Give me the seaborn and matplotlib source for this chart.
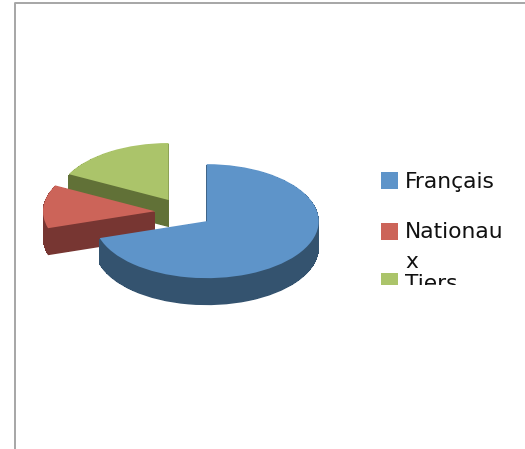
import matplotlib
matplotlib.use("Agg")
import matplotlib.pyplot as plt
from matplotlib.patches import Rectangle
import seaborn as sns

# --- DATA ---
labels = ["Français", "Nationau\nx", "Tiers"]
values = [70.2, 12.3, 17.5]
top_colors = ["#5E94C9", "#CC6459", "#ABC46A"]
side_colors = ["#34536F", "#773632", "#617137"]

# --- GEOMETRY (pixels, y flattened by squash) ---
W, H = 525, 449
squash = 112 / 57
depth = 27
cx, cy = 183.6, 212.5


def py(y):
    return (H - y) * squash


sns.set_theme(style="white")
fig = plt.figure(figsize=(W / 100, H / 100), dpi=100)
ax = fig.add_axes([0, 0, 1, 1])

# explode is in data units here because of the big radius
pie_args = dict(startangle=90, counterclock=False, radius=112, explode=[28.7] * 3,
                wedgeprops=dict(linewidth=0))

# side walls: dark copies stacked downwards, back slices first
# no antialiasing except the lowest one, else the edges pile up into a dark line
for d in range(depth, 0, -1):
    wedges, _ = ax.pie(values, colors=side_colors, center=(cx, py(cy + d)), **pie_args)
    for w, z in zip(wedges, [3, 2, 1]):
        w.set_zorder(z)
        w.set_antialiased(d == depth)

wedges, _ = ax.pie(values, colors=top_colors, center=(cx, py(cy)), **pie_args)
for w, z in zip(wedges, [3.5, 2.5, 1.5]):
    w.set_zorder(z)

ax.set_aspect("auto")
ax.set_xlim(0, W)
ax.set_ylim(0, H * squash)
ax.axis("off")

# outer frame, only top and left are in view
ax.plot([14.5, 14.5, W], [py(H), py(3.5), py(3.5)], color="#A6A6A6", lw=1.4, zorder=5)

# legend, cut off at the bottom like the original
clip = Rectangle((0, py(285)), W, py(0) - py(285), transform=ax.transData)
for lab, col, y, ty in zip(labels, top_colors, [180.5, 231.5, 281.5], [171.5, 222.5, 274]):
    swatch = ax.add_patch(Rectangle((381, py(y + 8.5)), 17, 17 * squash, color=col, lw=0))
    swatch.set_clip_path(clip)
    t = ax.text(405, py(ty), lab, fontsize=15.7, color="#111111", va="top", ha="left",
                linespacing=1.6, family="DejaVu Sans", clip_on=True)
    t.set_clip_path(clip)

fig.savefig("out.png", dpi=100)
